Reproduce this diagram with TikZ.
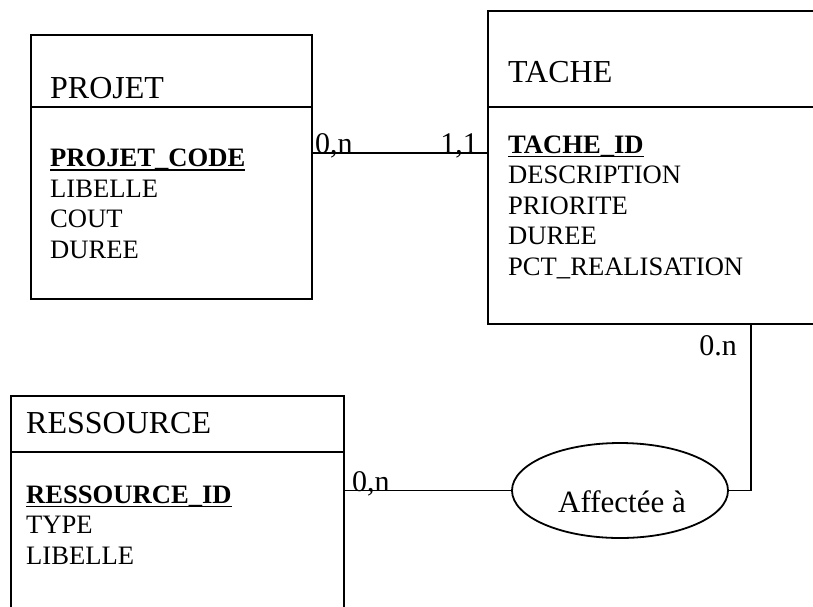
\documentclass[tikz,border=0pt]{standalone}
\usepackage{fontspec}
\setmainfont{Liberation Serif}
\usetikzlibrary{shapes.geometric}
\begin{document}
\begin{tikzpicture}[x=1pt,y=-1pt,
  box/.style={draw,line width=1.8pt,rectangle,inner sep=0pt,anchor=north west},
  ttl/.style={anchor=base west,inner sep=0pt,font=\fontsize{32}{36}\selectfont},
  att/.style={anchor=base west,inner sep=0pt,font=\fontsize{26.6}{30}\selectfont},
  card/.style={inner sep=0pt,font=\fontsize{30}{34}\selectfont},
  conn/.style={line width=1.8pt},
  uline/.style={line width=1.5pt},
  ]
\useasboundingbox (0,0) rectangle (813,606);

% entity boxes
\node[box,minimum width=281pt,minimum height=264pt] (projet) at (30,34) {};
\node[box,minimum width=340pt,minimum height=313pt] (tache) at (487,10) {};
\node[box,minimum width=333pt,minimum height=240pt] (ress) at (10,395) {};

% dividers
\coordinate (dp) at (0,107);
\coordinate (dt) at (0,107);
\coordinate (dr) at (0,452);
\draw[conn] (projet.west |- dp) -- (projet.east |- dp);
\draw[conn] (tache.west |- dt) -- (tache.east |- dt);
\draw[conn] (ress.west |- dr) -- (ress.east |- dr);

% PROJET texts
\node[ttl] (tprojet) at (50,98) {PROJET};
\node[att,font=\fontsize{26.6}{30}\selectfont\bfseries] (pcode) at (50,166.7) {PROJET\_CODE};
\node[att] (plib) at (50,197.2) {LIBELLE};
\node[att] (pcout) at (50,227.7) {COUT};
\node[att] (pdur) at (50,258.2) {DUREE};
\draw[uline] ([yshift=-3.5pt]pcode.base west) -- ([yshift=-3.5pt]pcode.base east);

% TACHE texts
\node[ttl] (ttache) at (508,82) {TACHE};
\node[att,font=\fontsize{26.6}{30}\selectfont\bfseries] (tid) at (508,153) {TACHE\_ID};
\node[att] (tdesc) at (508,183.5) {DESCRIPTION};
\node[att] (tprio) at (508,214) {PRIORITE};
\node[att] (tdur) at (508,244.5) {DUREE};
\node[att] (tpct) at (508,275) {PCT\_REALISATION};
\draw[uline] ([yshift=-3.5pt]tid.base west) -- ([yshift=-3.5pt]tid.base east);

% RESSOURCE texts
\node[ttl] (tress) at (26,433) {RESSOURCE};
\node[att,font=\fontsize{26.6}{30}\selectfont\bfseries] (rid) at (26,503) {RESSOURCE\_ID};
\node[att] (rtype) at (26,533.5) {TYPE};
\node[att] (rlib) at (26,564) {LIBELLE};
\draw[uline] ([yshift=-3.5pt]rid.base west) -- ([yshift=-3.5pt]rid.base east);

% association
\node[ellipse,draw,line width=1.8pt,minimum width=216pt,minimum height=95pt,inner sep=0pt] (aff) at (620,490.5) {};
\node[card,anchor=base,font=\fontsize{31}{34}\selectfont] (afftxt) at (622,512) {Affectée à};

% connectors
\coordinate (r1) at (0,153);
\coordinate (c2) at (751,0);
\draw[conn] (projet.east |- r1) -- (tache.west |- r1);
\draw[conn] (ress.east |- aff.west) -- (aff.west);
\draw[conn] (aff.east) -| (c2 |- tache.south);

% cardinalities
\node[card,anchor=base west] (k1) at (315,153) {0,n};
\node[card,anchor=base east] (k2) at (478,153) {1,1};
\node[card,anchor=base east] (k3) at (737,355) {0.n};
\node[card,anchor=base west] (k4) at (352,491) {0,n};
\end{tikzpicture}
\end{document}
